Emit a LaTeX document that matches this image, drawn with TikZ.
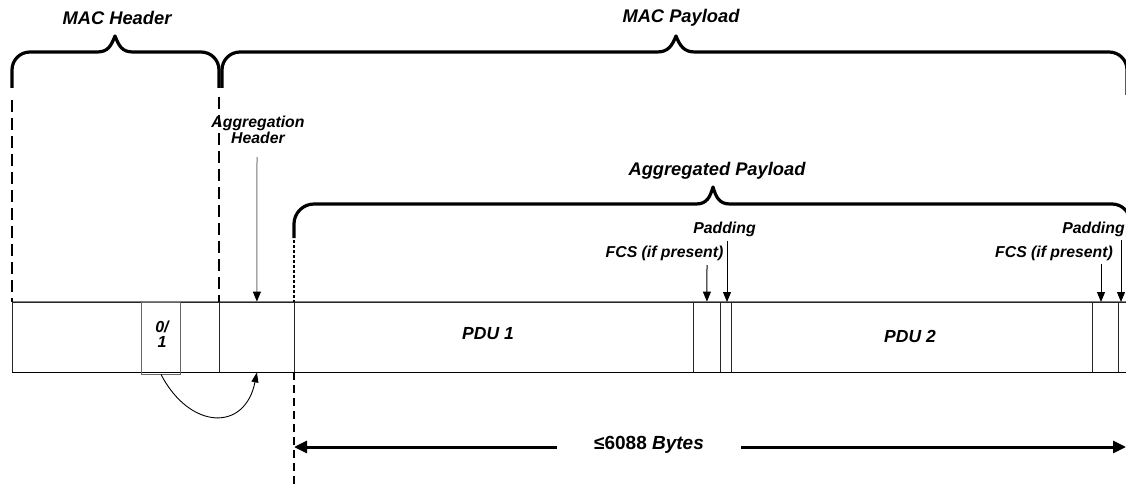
\documentclass[tikz,border=0pt]{standalone}
\usepackage{fontspec}
\setmainfont{Liberation Sans}
\usetikzlibrary{arrows.meta}
\begin{document}
\begin{tikzpicture}[x=1pt,y=-1pt,
  lbl/.style={font=\fontsize{18.3}{20}\selectfont\bfseries\itshape, inner sep=0pt},
  slbl/.style={font=\fontsize{15.8}{16}\selectfont\bfseries\itshape, inner sep=0pt, align=center},
  pdulbl/.style={font=\fontsize{17.5}{19}\selectfont\bfseries\itshape, inner sep=0pt},
  bracestyle/.style={line width=3.2pt, line join=round},
  bigdash/.style={line width=2.6pt, dash pattern=on 12pt off 6pt},
  middash/.style={line width=2.3pt, dash pattern=on 8pt off 5pt},
  finedash/.style={line width=2.2pt, dash pattern=on 3pt off 2pt},
  seg/.style={draw=black!85, line width=0.8pt, minimum height=70pt, inner sep=0pt, anchor=west},
  smallarrow/.style={line width=1pt, -{Triangle[length=10pt,width=8pt,color=black]}},
  bigarrow/.style={line width=3pt, -{Triangle[length=13pt,width=12pt]}}
]
\useasboundingbox (0,0) rectangle (1126,484);
\clip (0,0) rectangle (1126,484);

% strip segments
\node[seg, minimum width=207pt] (seg0) at (12,337) {};
\node[seg, minimum width=75pt] (agghdr) at (219,337) {};
\node[seg, minimum width=399pt] (pdu1) at (294,337) {};
\node[seg, minimum width=27pt] (fcs1) at (693,337) {};
\node[seg, minimum width=11pt] (pad1) at (720,337) {};
\node[seg, minimum width=361pt] (pdu2) at (731,337) {};
\node[seg, minimum width=26pt] (fcs2) at (1092,337) {};
\node[seg, minimum width=30pt] (pad2) at (1118,337) {};
\draw[black!50, line width=1.2pt] (seg0.north west) -- (pad2.north east);
\draw[black, line width=1pt] (seg0.south west) -- (pad2.south east);

% 0/1 field
\node[draw=black!60, line width=1pt, minimum width=39pt, minimum height=72pt, inner sep=0pt] (b01) at (161,338) {};
\node[slbl, font=\fontsize{16}{15.5}\selectfont\bfseries\itshape] (b01t) at (162,334) {0/\\1};

% texts in strip
\node[pdulbl] (pdu1t) at (488,334) {PDU 1};
\node[pdulbl] (pdu2t) at (910,336) {PDU 2};

% braces
\draw[bracestyle] (12,88) -- (12,70) .. controls (12,60) and (20,52) .. (30,52)
  -- (97,52) .. controls (108,52) and (111,46) .. (115,36)
  .. controls (119,46) and (122,52) .. (133,52)
  -- (201,52) .. controls (211,52) and (219,60) .. (219,70) -- (219,88);
\draw[bracestyle] (222,88) -- (222,70) .. controls (222,60) and (230,52) .. (240,52)
  -- (657,52) .. controls (668,52) and (672,46) .. (676,36)
  .. controls (680,46) and (684,52) .. (695,52)
  -- (1109,52) .. controls (1119,52) and (1127,60) .. (1127,70) -- (1127,95);
\draw[bracestyle] (294,238) -- (294,224) .. controls (294,213) and (303,204) .. (314,204)
  -- (696,204) .. controls (707,204) and (710,197) .. (713,187)
  .. controls (716,197) and (719,204) .. (730,204)
  -- (1112,204) .. controls (1122,204) and (1130,212) .. (1130,222) -- (1130,240);

% labels
\node[lbl] (machdr) at (117,18) {MAC Header};
\node[lbl] (macpl) at (681,18) {MAC Payload};
\node[lbl] (aggpl) at (717,171) {Aggregated Payload};
\node[slbl] (agghl) at (258,130) {Aggregation\\Header};
\node[slbl] (pad1l) at (724.5,229) {Padding};
\node[slbl] (fcs1l) at (664.5,253) {FCS (if present)};
\node[slbl] (pad2l) at (1093.5,229) {Padding};
\node[slbl] (fcs2l) at (1054,253) {FCS (if present)};

% dashed guides
\coordinate (d1top) at (12,100);
\coordinate (d2top) at (219,97);
\draw[bigdash] (d1top) -- (seg0.north west);
\draw[bigdash] (d2top) -- (agghdr.north west);
\coordinate (d3top) at (294,240);
\draw[finedash] (d3top) -- (pdu1.north west);
\coordinate (d3bot) at (294,484);
\draw[middash] (pdu1.south west) -- (d3bot);

% pointer arrows
\coordinate (ahs) at (257,157);
\draw[smallarrow, draw=black!55] (ahs) -- (agghdr.north);
\coordinate (f1s) at (707,265);
\draw[smallarrow] (f1s) -- (fcs1.north);
\coordinate (p1s) at (727,241);
\coordinate (p1e) at (727,302);
\draw[smallarrow] (p1s) -- (p1e);
\coordinate (f2s) at (1101,264);
\coordinate (f2e) at (1101,302);
\draw[smallarrow] (f2s) -- (f2e);
\coordinate (p2s) at (1121,240);
\coordinate (p2e) at (1121,302);
\draw[smallarrow] (p2s) -- (p2e);

% curved arrow
\draw[line width=0.9pt, -{Triangle[length=10pt,width=7pt]}] (b01.south) .. controls (190,430) and (245,432) .. (agghdr.south);

% size arrow
\node[inner xsep=37pt, inner ysep=0pt, font=\fontsize{19}{21}\selectfont\bfseries] (bytes) at (649,445) {≤6088 \textit{Bytes}};
\coordinate (lend) at (294,447);
\coordinate (rend) at (1126,447);
\draw[bigarrow] (bytes.west |- lend) -- (lend);
\draw[bigarrow] (bytes.east |- rend) -- (rend);
\end{tikzpicture}
\end{document}
